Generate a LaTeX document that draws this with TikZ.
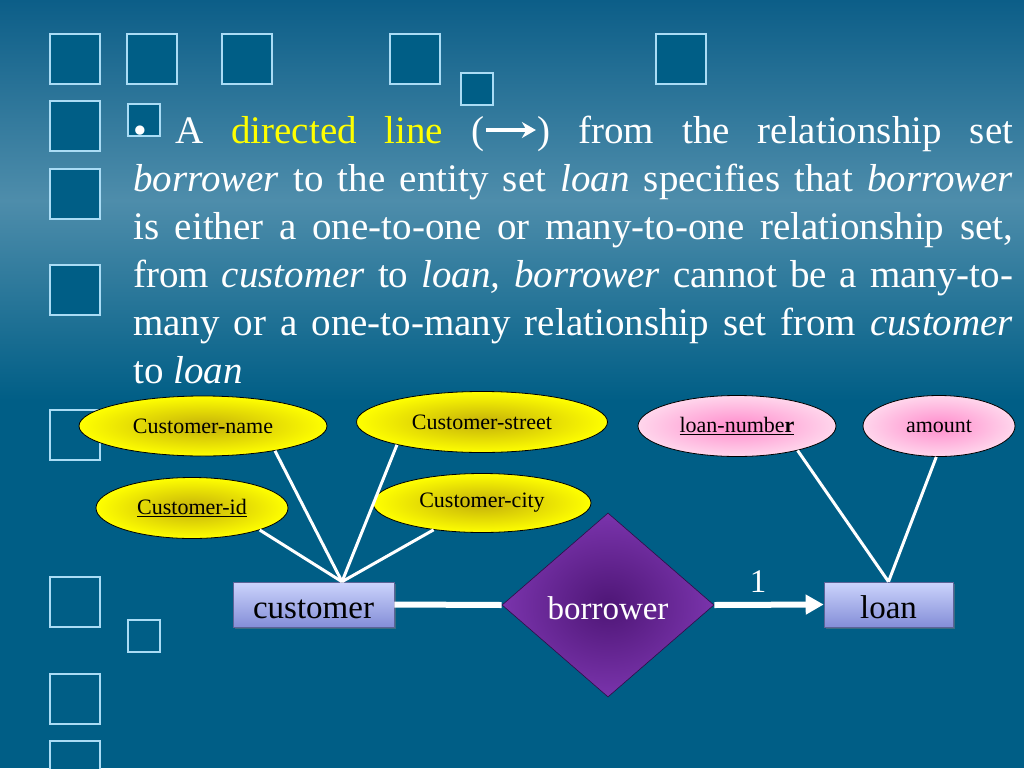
\documentclass[tikz,border=0pt]{standalone}
\usepackage{fontspec}
\setmainfont{Liberation Serif}
\usetikzlibrary{
  arrows.meta,      % 箭头样式
  calc,             % 坐标计算
  positioning,      % 节点相对定位
  shapes.geometric, % 椭圆与菱形
  shadows           % 实体框阴影
}
\definecolor{bgtop}{RGB}{12,94,136}
\definecolor{bgmid}{RGB}{78,141,171}
\definecolor{bgbot}{RGB}{0,94,134}
\definecolor{sqline}{RGB}{170,220,245}
\definecolor{attry}{RGB}{255,255,0}
\definecolor{attryin}{RGB}{196,176,10}
\definecolor{attrp}{RGB}{255,214,236}
\definecolor{attrpin}{RGB}{255,140,204}
\definecolor{relin}{RGB}{78,22,118}
\definecolor{relout}{RGB}{122,52,172}
\definecolor{enttop}{RGB}{204,212,252}
\definecolor{entbot}{RGB}{132,142,216}

% 正文中的小箭头
\newcommand{\dirarrow}{\tikz[baseline=-13pt]\draw[white,line width=3.5pt,-{Stealth[length=14pt,width=16pt]}] (0pt,0pt) -- (50pt,0pt);}

\begin{document}
\begin{tikzpicture}[x=1pt, y=-1pt,
  attrY/.style={ellipse, draw=black, line width=0.8pt, inner sep=0pt,
    inner color=attryin, outer color=attry, font=\fontsize{22}{24}\selectfont},
  attrP/.style={ellipse, draw=black, line width=0.8pt, inner sep=0pt,
    inner color=attrpin, outer color=attrp, font=\fontsize{22}{24}\selectfont},
  entity/.style={rectangle, draw=entbot!70!black, line width=0.6pt, inner sep=0pt,
    top color=enttop, bottom color=entbot, minimum height=45pt,
    text height=28pt, text depth=0pt, font=\fontsize{33}{36}\selectfont,
    drop shadow={opacity=0.45, shadow xshift=2pt, shadow yshift=-2pt}},
  rel/.style={diamond, draw=relin!60!black, line width=0.6pt, inner sep=0pt,
    inner color=relin, outer color=relout, minimum width=212pt, minimum height=184pt,
    text height=28pt, text depth=0pt, text=white, font=\fontsize{33}{36}\selectfont},
  link/.style={white, line width=3pt},
  bigsq/.style={draw=sqline, fill=bgbot, line width=1.6pt}
]
  \useasboundingbox (0,0) rectangle (1024,768);

  % =========== 背景渐变 ===========
  \fill[top color=bgtop, bottom color=bgmid] (0,0) rectangle (1024,201);
  \fill[top color=bgmid, bottom color=bgbot] (0,200) rectangle (1024,401);
  \fill[bgbot] (0,400) rectangle (1024,768);

  % 装饰方块
  \foreach \x/\y in {50/34,127/34,222/34,390/34,656/34,50/101,50/169,50/265,50/410,50/577,50/674,50/741}
    \draw[bigsq] (\x,\y) rectangle +(50,50);
  \foreach \x/\y in {461/73,128/104,128/620}
    \draw[bigsq] (\x,\y) rectangle +(32,32);

  % =========== 说明文字 ===========
  \node[anchor=base west, inner sep=0pt, text width=880pt, align=justify, text=white,
    font=\fontsize{39}{48}\selectfont] (para) at (133,143)
    {\tolerance=9999\relax
     \makebox[42pt][l]{\textbullet}A \textcolor{attry}{directed line}
     (\dirarrow) from the relationship set\linebreak
     \textit{borrower} to the entity set \textit{loan} specifies that \textit{borrower}\linebreak
     is either a one-to-one or many-to-one relationship set,\linebreak
     from \textit{customer} to \textit{loan, borrower} cannot be a many-to-\linebreak
     many or a one-to-many relationship set from \textit{customer}\linebreak
     to \textit{loan}};

  % =========== 属性 ===========
  \node[attrY, minimum width=248pt, minimum height=60pt] (cname) at (203,426) {Customer-name};
  \node[attrY, minimum width=251pt, minimum height=61pt] (cstreet) at (482,422) {Customer-street};
  \node[attrY, minimum width=192pt, minimum height=61pt] (cid) at (192,508) {\underline{Customer-id}};
  \node[attrY, minimum width=218pt, minimum height=59pt] (ccity) at (482,503) {Customer-city};
  \node[attrP, minimum width=198pt, minimum height=61pt] (lnum) at (737,426) {\underline{loan-numbe\textbf{r}}};
  \node[attrP, minimum width=152pt, minimum height=61pt] (amount) at (939,426) {amount};

  % =========== 实体与联系 ===========
  \node[entity, minimum width=161pt] (customer) at (313.5,604.5) {customer};
  \node[entity, minimum width=129pt] (loan) at (888.5,604.5) {loan};
  \node[rel] (borrower) at (608,605) {borrower};

  % 属性连线
  \coordinate (cjoin) at ($(customer.north)+(28.5,0)$);
  \draw[link] (cjoin) -- (cname.-19);
  \draw[link] (cjoin) -- (cstreet.-165);
  \draw[link] (cjoin) -- (cid.-18);
  \draw[link] (cjoin) -- (ccity.-151);
  \draw[link] (loan.north) -- (lnum.-22);
  \draw[link] (loan.north) -- (amount.-95);

  % 联系连线
  \draw[white, line width=6pt] (customer.east) -- (borrower.west);
  \draw[white, line width=6pt, -{Triangle[length=18pt,width=19pt]}] (borrower.east)
    -- node[pos=0.4, above=9pt, inner sep=0pt, text=white, font=\fontsize{33}{36}\selectfont] (one) {1} (loan.west);

\end{tikzpicture}
\end{document}
